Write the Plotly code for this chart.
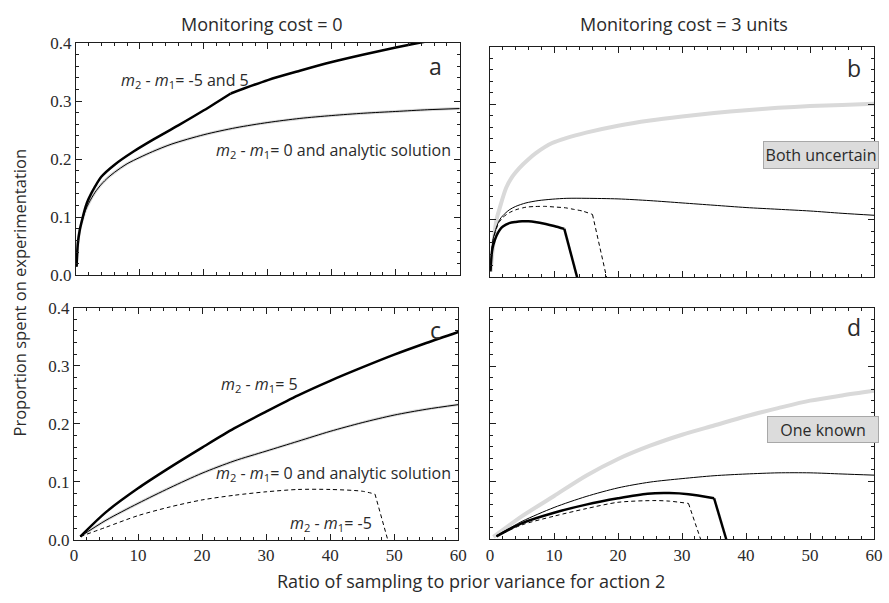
import plotly.graph_objects as go

# ---------------- data ----------------
# Panel a (monitoring cost = 0, both uncertain)
a_x_m5 = [0.1, 0.3, 0.6, 1, 1.5, 2, 3, 4, 6, 9, 12, 16, 20, 24.2, 30, 35, 40, 45, 50, 55, 60]
a_y_m5 = [0.015, 0.055, 0.078, 0.097, 0.118, 0.132, 0.153, 0.17, 0.19, 0.213, 0.233, 0.258, 0.284, 0.313,
          0.336, 0.352, 0.367, 0.38, 0.392, 0.403, 0.414]
a_kink = 13  # index of the kink at x = 24.2
a_x_m0 = [0.1, 0.3, 0.6, 1, 1.5, 2, 3, 4, 5, 6, 8, 10, 12, 15, 20, 25, 30, 35, 40, 45, 50, 55, 60]
a_y_m0 = [0.015, 0.055, 0.078, 0.095, 0.112, 0.124, 0.143, 0.157, 0.168, 0.177, 0.192, 0.203, 0.213, 0.226,
          0.242, 0.254, 0.263, 0.27, 0.275, 0.279, 0.282, 0.285, 0.287]

# Panel b (monitoring cost = 3, both uncertain)
b_x_an = [0.1, 0.25, 0.5, 1, 1.5, 2.5, 3.5, 4.6, 6, 7.2, 9.7, 12, 15, 20, 25, 30, 35, 40, 45, 50, 55, 60]
b_y_an = [0.01, 0.03, 0.056, 0.1, 0.12, 0.155, 0.175, 0.19, 0.205, 0.216, 0.233, 0.242, 0.251, 0.263, 0.272,
          0.279, 0.285, 0.29, 0.294, 0.297, 0.299, 0.301]
b_x_m0 = [0.1, 0.3, 0.5, 1, 1.5, 2, 3, 4, 5.6, 7.5, 9.7, 12, 15, 20, 25, 30, 35, 40, 45, 50, 55, 60]
b_y_m0 = [0.012, 0.05, 0.068, 0.087, 0.1, 0.107, 0.117, 0.123, 0.129, 0.133, 0.1355, 0.137, 0.137, 0.136,
          0.133, 0.129, 0.125, 0.121, 0.118, 0.115, 0.111, 0.1076]
b_x_neg = [0.1, 0.3, 0.5, 1, 1.5, 2, 3, 4, 5.6, 7, 8.7, 10, 11.8, 13, 14.4, 16, 18.2]
b_y_neg = [0.012, 0.05, 0.066, 0.085, 0.097, 0.104, 0.112, 0.117, 0.1216, 0.1228, 0.123, 0.122, 0.1205,
           0.118, 0.115, 0.109, 0.0]
b_x_pos = [0.05, 0.3, 0.5, 1, 1.5, 2, 3, 4, 5, 6, 7, 8.7, 10, 11.6, 13.6]
b_y_pos = [0.01, 0.045, 0.056, 0.072, 0.082, 0.088, 0.094, 0.096, 0.097, 0.097, 0.096, 0.0925, 0.089, 0.084, 0.0]

# Panel c (monitoring cost = 0, one known)
c_x = [1, 5, 10, 15, 20, 25, 30, 35, 40, 45, 50, 55, 60]
c_y_pos = [0.006, 0.048, 0.089, 0.125, 0.159, 0.192, 0.221, 0.249, 0.274, 0.297, 0.319, 0.339, 0.358]
c_y_m0 = [0.006, 0.034, 0.063, 0.09, 0.115, 0.136, 0.153, 0.17, 0.187, 0.202, 0.215, 0.225, 0.233]
c_x_neg = [1, 5, 10, 15, 20, 25, 30, 35, 40, 45, 47, 49]
c_y_neg = [0.006, 0.022, 0.042, 0.057, 0.069, 0.077, 0.083, 0.087, 0.087, 0.084, 0.079, 0.0]

# Panel d (monitoring cost = 3, one known)
d_x_an = [0.5, 1, 5, 10, 15, 20, 25, 30, 35, 40, 45, 50, 55, 60]
d_y_an = [0.004, 0.008, 0.04, 0.075, 0.11, 0.139, 0.162, 0.181, 0.197, 0.213, 0.227, 0.24, 0.249, 0.257]
d_x_m0 = [1, 5, 10, 15, 20, 25, 30, 35, 40, 45, 50, 55, 60]
d_y_m0 = [0.006, 0.031, 0.055, 0.074, 0.089, 0.099, 0.105, 0.11, 0.113, 0.115, 0.115, 0.113, 0.111]
d_x_pos = [1, 5, 10, 15, 20, 24.6, 28, 31, 35, 36.9]
d_y_pos = [0.005, 0.028, 0.046, 0.06, 0.071, 0.079, 0.08, 0.078, 0.071, 0.0]
d_x_neg = [1, 5, 10, 15, 20, 25.6, 28, 31, 32.9]
d_y_neg = [0.005, 0.025, 0.04, 0.053, 0.064, 0.067, 0.066, 0.062, 0.0]

x_ticks = [0, 10, 20, 30, 40, 50, 60]
y_ticks = [0.0, 0.1, 0.2, 0.3, 0.4]
col_titles = ["Monitoring cost = 0", "Monitoring cost = 3 units"]
panel_letters = ["a", "b", "c", "d"]
box_labels = ["Both uncertain", "One known"]
y_title = "Proportion spent on experimentation"
x_title = "Ratio of sampling to prior variance for action 2"

# ---------------- styles ----------------
W, H = 889, 603
GRAY = "#d9d9d9"
INK = "#1e1e1e"
TXT = "#2a2a2a"
SANS = "Open Sans"
SERIF = "Liberation Serif"
DASH = "4px,3px"

fig = go.Figure()


def trace(x, y, ax, width, color="black", dash="solid", smooth=True):
    xa = "x" if ax == 1 else f"x{ax}"
    ya = "y" if ax == 1 else f"y{ax}"
    ln = dict(color=color, width=width, dash=dash)
    if smooth:
        ln.update(shape="spline", smoothing=0.8)
    fig.add_trace(go.Scatter(x=x, y=y, mode="lines", xaxis=xa, yaxis=ya, line=ln,
                             hoverinfo="skip", showlegend=False))


def curve_with_drop(x, y, ax, width, dash="solid"):
    # smooth curved part, then a straight final drop segment
    trace(x[:-1], y[:-1], ax, width, "black", dash, True)
    trace(x[-2:], y[-2:], ax, width, "black", dash, False)


# panel a
trace(a_x_m0, a_y_m0, 1, 3, GRAY)
trace(a_x_m0, a_y_m0, 1, 1, "black")
trace(a_x_m5[:a_kink + 1], a_y_m5[:a_kink + 1], 1, 2.5)
trace(a_x_m5[a_kink:], a_y_m5[a_kink:], 1, 2.5)
# panel b
trace(b_x_an, b_y_an, 2, 4, GRAY)
trace(b_x_m0, b_y_m0, 2, 1)
curve_with_drop(b_x_neg, b_y_neg, 2, 1, DASH)
curve_with_drop(b_x_pos, b_y_pos, 2, 2.5)
# panel c
trace(c_x, c_y_m0, 3, 3, GRAY)
trace(c_x, c_y_m0, 3, 1)
trace(c_x, c_y_pos, 3, 2.5)
curve_with_drop(c_x_neg, c_y_neg, 3, 1, DASH)
# panel d
trace(d_x_an, d_y_an, 4, 4, GRAY)
trace(d_x_m0, d_y_m0, 4, 1)
curve_with_drop(d_x_pos, d_y_pos, 4, 2.5)
curve_with_drop(d_x_neg, d_y_neg, 4, 1, DASH)


def px_x(p):
    return p / W


def px_y(p):
    return 1 - p / H


COMMON = dict(showline=True, linecolor=INK, linewidth=1, mirror="allticks",
              ticks="inside", ticklen=6, tickwidth=1, tickcolor=INK,
              showgrid=False, zeroline=False, fixedrange=True,
              tickfont=dict(family=SERIF, size=17, color=TXT))


def xaxis(dom, anchor, labels):
    return dict(domain=[px_x(dom[0]), px_x(dom[1])], anchor=anchor, range=[0, 60],
                tickvals=x_ticks, ticktext=[str(v) for v in x_ticks], showticklabels=labels,
                minor=dict(ticks="inside", dtick=2, tick0=0, ticklen=3, tickwidth=1, tickcolor=INK),
                **COMMON)


def yaxis(dom, anchor, labels):
    return dict(domain=[px_y(dom[1]), px_y(dom[0])], anchor=anchor, range=[0, 0.4],
                tickvals=y_ticks, ticktext=[f"{v:.1f}" for v in y_ticks], showticklabels=labels,
                minor=dict(ticks="inside", dtick=0.02, tick0=0, ticklen=3, tickwidth=1, tickcolor=INK),
                **COMMON)


XR = (493.3, 883)
fig.update_layout(
    width=W, height=H, margin=dict(l=0, r=0, t=0, b=0),
    paper_bgcolor="white", plot_bgcolor="white",
    xaxis=xaxis((73, 462.5), "y", False), yaxis=yaxis((35, 275), "x", True),
    xaxis2=xaxis(XR, "y2", False), yaxis2=yaxis((39, 277), "x2", False),
    xaxis3=xaxis((71, 461), "y3", True), yaxis3=yaxis((308.3, 548.3), "x3", True),
    xaxis4=xaxis(XR, "y4", True), yaxis4=yaxis((309, 547.5), "x4", False),
)

ann = []
LAB = dict(family=SANS, size=16, color=TXT)
M = "<i>m</i><sub>2</sub> - <i>m</i><sub>1</sub>= "


def text(t, x, y, ax, xanchor="left", font=LAB):
    xa = "x" if ax == 1 else f"x{ax}"
    ya = "y" if ax == 1 else f"y{ax}"
    ann.append(dict(text=t, x=x, y=y, xref=xa, yref=ya, xanchor=xanchor, yanchor="middle",
                    showarrow=False, font=font))


text(M + "-5 and 5", 6.8, 0.336, 1)
text(M + "0 and analytic solution", 21.6, 0.215, 1)
text(M + "5", 22.6, 0.267, 3)
text(M + "0 and analytic solution", 21.8, 0.115, 3)
text(M + "-5", 33.4, 0.028, 3)

LET = dict(family=SANS, size=23, color=TXT)
text(panel_letters[0], 56.2, 0.36, 1, "center", LET)
text(panel_letters[1], 56.9, 0.363, 2, "center", LET)
text(panel_letters[2], 56.5, 0.362, 3, "center", LET)
text(panel_letters[3], 56.9, 0.367, 4, "center", LET)

BOX = dict(family=SANS, size=16, color=TXT)
ann.append(dict(text=box_labels[0], x=px_x(829.5), y=px_y(151), xref="paper", yref="paper",
                xanchor="center", yanchor="middle", showarrow=False, font=BOX, bgcolor="#dcdcdc",
                bordercolor="#a8a8a8", borderwidth=1, borderpad=2, width=110, height=22))
ann.append(dict(text=box_labels[1], x=px_x(831.5), y=px_y(434.5), xref="paper", yref="paper",
                xanchor="center", yanchor="middle", showarrow=False, font=BOX, bgcolor="#dcdcdc",
                bordercolor="#a8a8a8", borderwidth=1, borderpad=2, width=106, height=21))

TIT = dict(family=SANS, size=18, color=TXT)
ann.append(dict(text=col_titles[0], x=px_x(262), y=px_y(15), xref="paper", yref="paper",
                xanchor="center", yanchor="middle", showarrow=False, font=TIT))
ann.append(dict(text=col_titles[1], x=px_x(690), y=px_y(15), xref="paper", yref="paper",
                xanchor="center", yanchor="middle", showarrow=False, font=TIT))
ann.append(dict(text=y_title, x=px_x(16), y=px_y(293), xref="paper", yref="paper", textangle=-90,
                xanchor="center", yanchor="middle", showarrow=False,
                font=dict(family=SANS, size=16.5, color=TXT)))
ann.append(dict(text=x_title, x=px_x(474), y=px_y(591), xref="paper", yref="paper",
                xanchor="center", yanchor="middle", showarrow=False, font=TIT))

fig.update_layout(annotations=ann)
# remove the browser's default page margin so the 889x603 figure fills the window exactly
fig.write_html("out.html", config={"displayModeBar": False},
               post_script="document.body.style.margin='0';document.body.style.padding='0';")
